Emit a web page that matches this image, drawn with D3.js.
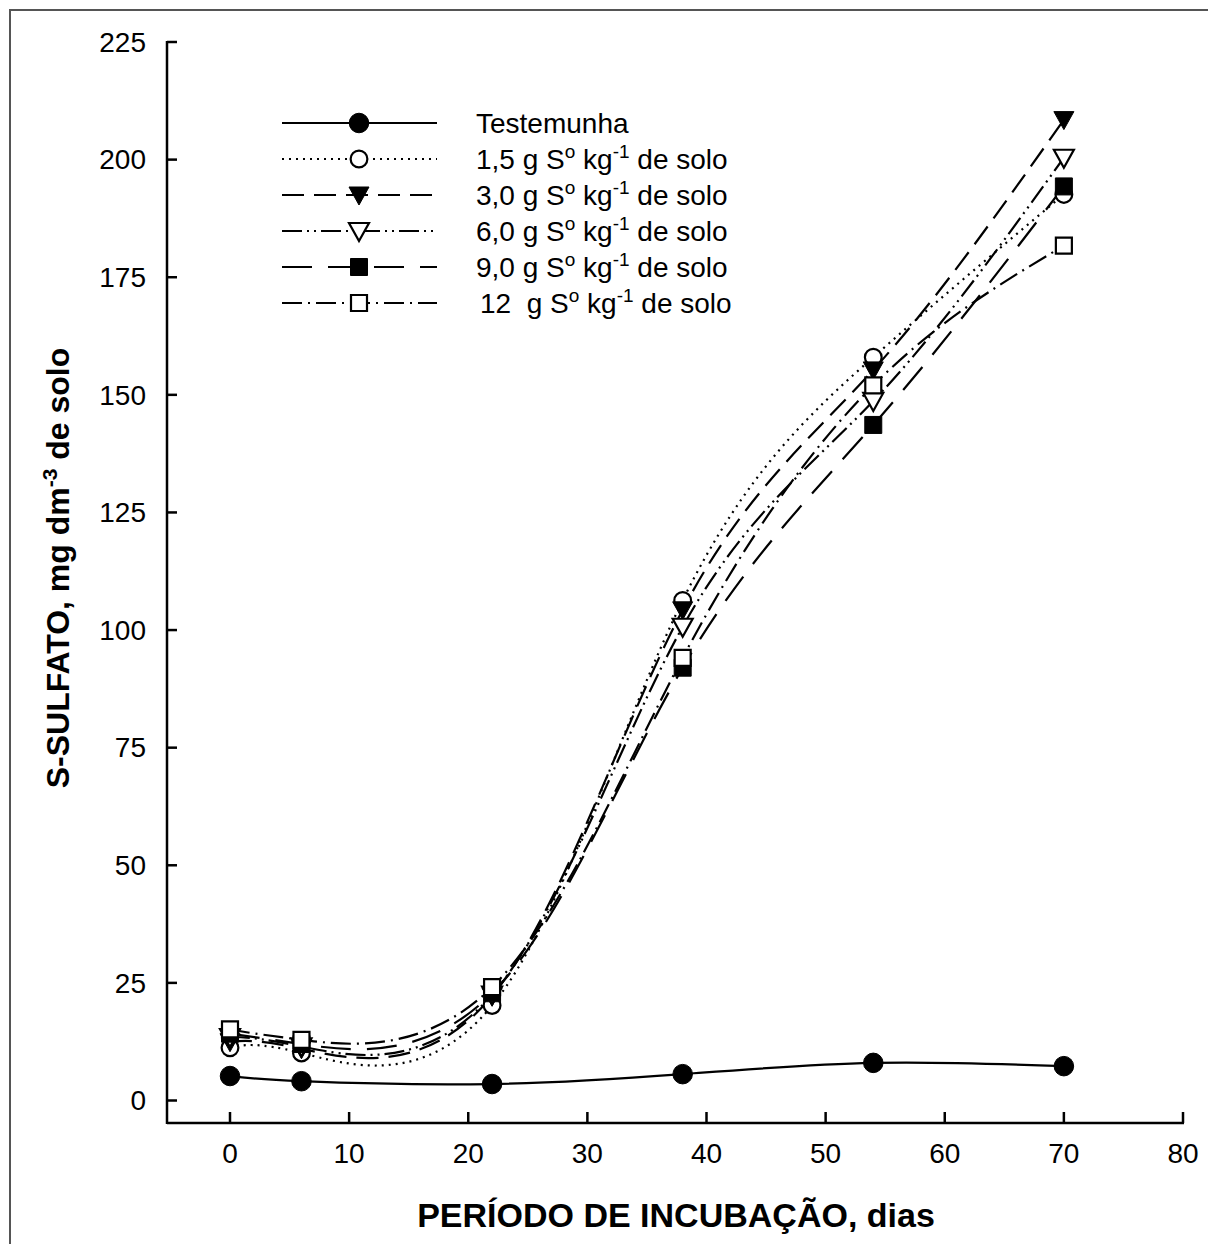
<!DOCTYPE html>
<html>
<head>
<meta charset="utf-8">
<script src="https://cdn.jsdelivr.net/npm/d3@7"></script>
<style>
  body { margin: 0; background: #fff; }
  text { font-family: "Liberation Sans", Arial, sans-serif; fill: #000; }
</style>
</head>
<body>
<div id="chart"></div>
<script>
// incubation days
const dias = [0, 6, 22, 38, 54, 70];

// S-sulfato, mg dm-3
const testemunha = [5.2, 4.1, 3.5, 5.6, 8.0, 7.3];
const dose15 = [11.2, 10.1, 20.2, 106.3, 158.0, 192.6];
const dose30 = [12.5, 11.0, 22.2, 104.3, 155.3, 208.5];
const dose60 = [13.5, 11.5, 22.5, 100.7, 148.7, 200.4];
const dose90 = [14.2, 12.0, 22.8, 92.0, 143.6, 194.3];
const dose12 = [15.1, 12.9, 24.1, 94.1, 152.0, 181.7];

const xTicks = [0, 10, 20, 30, 40, 50, 60, 70, 80];
const yTicks = [0, 25, 50, 75, 100, 125, 150, 175, 200, 225];

const legendLabels = ["Testemunha", "1,5", "3,0", "6,0", "9,0", "12 "];

const series = [
  { label: legendLabels[0], values: testemunha, dash: null, marker: "circle", fill: true },
  { label: legendLabels[1], values: dose15, dash: "2,5", marker: "circle", fill: false },
  { label: legendLabels[2], values: dose30, dash: "22,10", marker: "tri", fill: true },
  { label: legendLabels[3], values: dose60, dash: "20,5,2,5,2,5", marker: "tri", fill: false },
  { label: legendLabels[4], values: dose90, dash: "30,16", marker: "square", fill: true },
  { label: legendLabels[5], values: dose12, dash: "20,6,2,6", marker: "square", fill: false }
];

const W = 1208, H = 1244;
const svg = d3.select("#chart").append("svg")
  .attr("width", W).attr("height", H);

// outer frame
svg.append("rect")
  .attr("x", 10).attr("y", 10)
  .attr("width", W + 20).attr("height", H + 20)
  .attr("fill", "none").attr("stroke", "#555").attr("stroke-width", 2);

const x = d3.scaleLinear().domain([0, 80]).range([230, 1183]);
const y = d3.scaleLinear().domain([0, 225]).range([1100.5, 42]);

const axisX = 167, axisY = 1123;

// y axis
svg.append("line")
  .attr("x1", axisX).attr("x2", axisX)
  .attr("y1", y(225) - 1).attr("y2", axisY + 1)
  .attr("stroke", "#000").attr("stroke-width", 2.5);
svg.selectAll(".ytick").data(yTicks).enter().append("line")
  .attr("x1", axisX).attr("x2", axisX + 10)
  .attr("y1", d => y(d)).attr("y2", d => y(d))
  .attr("stroke", "#000").attr("stroke-width", 2.5);
svg.selectAll(".ylab").data(yTicks).enter().append("text")
  .attr("x", 146).attr("y", d => y(d))
  .attr("dy", "0.35em")
  .attr("text-anchor", "end")
  .attr("font-size", 28)
  .text(d => d);

// x axis
svg.append("line")
  .attr("x1", axisX).attr("x2", x(80) + 1)
  .attr("y1", axisY).attr("y2", axisY)
  .attr("stroke", "#000").attr("stroke-width", 2.5);
svg.selectAll(".xtick").data(xTicks).enter().append("line")
  .attr("x1", d => x(d)).attr("x2", d => x(d))
  .attr("y1", axisY).attr("y2", axisY - 11)
  .attr("stroke", "#000").attr("stroke-width", 2.5);
svg.selectAll(".xlab").data(xTicks).enter().append("text")
  .attr("x", d => x(d)).attr("y", 1153)
  .attr("dy", "0.35em")
  .attr("text-anchor", "middle")
  .attr("font-size", 28)
  .text(d => d);

// axis titles
svg.append("text")
  .attr("x", 676).attr("y", 1215)
  .attr("dy", "0.35em")
  .attr("text-anchor", "middle")
  .attr("font-size", 34).attr("font-weight", "bold")
  .text("PERÍODO DE INCUBAÇÃO, dias");

const yTitle = svg.append("text")
  .attr("transform", "translate(58,568) rotate(-90)")
  .attr("dy", 11)
  .attr("text-anchor", "middle")
  .attr("font-size", 32).attr("font-weight", "bold");
yTitle.append("tspan").text("S-SULFATO, mg dm");
yTitle.append("tspan").attr("font-size", 21).attr("dy", -12).text("-3");
yTitle.append("tspan").attr("dy", 12).text(" de solo");

// markers
function markerPath(type) {
  if (type === "circle") return d3.symbol(d3.symbolCircle, 300)();
  if (type === "tri") return "M-10,-8L10,-8L0,10Z";
  return "M-8.5,-8.5H8.5V8.5H-8.5Z";
}

function drawMarker(g, s, cx, cy) {
  let p = markerPath(s.marker);
  if (!s.fill && s.marker === "circle") p = d3.symbol(d3.symbolCircle, 220)();
  if (!s.fill && s.marker === "square") p = "M-8,-8H8V8H-8Z";
  g.append("path")
    .attr("d", p)
    .attr("transform", `translate(${cx},${cy})`)
    .attr("fill", s.fill ? "#000" : "#fff")
    .attr("stroke", "#000")
    .attr("stroke-width", s.fill ? 1 : 2.2);
}

const line = d3.line()
  .x((d, i) => x(dias[i]))
  .y(d => y(d))
  .curve(d3.curveNatural);

const gLines = svg.append("g");
series.forEach(s => {
  gLines.append("path")
    .attr("d", line(s.values))
    .attr("fill", "none")
    .attr("stroke", "#000")
    .attr("stroke-width", 2.2)
    .attr("stroke-dasharray", s.dash);
});

const gMarks = svg.append("g");
series.forEach(s => {
  s.values.forEach((v, i) => drawMarker(gMarks, s, x(dias[i]), y(v)));
});

// legend
const lg = svg.append("g");
series.forEach((s, i) => {
  const ly = 123 + i * 36;
  lg.append("line")
    .attr("x1", 282).attr("x2", 437)
    .attr("y1", ly).attr("y2", ly)
    .attr("stroke", "#000").attr("stroke-width", 2.2)
    .attr("stroke-dasharray", s.dash);
  drawMarker(lg, s, 359, ly);
  const t = lg.append("text")
    .attr("x", i === 5 ? 480 : 476).attr("y", ly)
    .attr("dy", 10)
    .attr("font-size", 28)
    .attr("xml:space", "preserve");
  if (i === 0) {
    t.text(s.label);
  } else {
    t.append("tspan").text(s.label + " g S");
    t.append("tspan").attr("font-size", 19).attr("dy", -11).text("o");
    t.append("tspan").attr("dy", 11).text(" kg");
    t.append("tspan").attr("font-size", 19).attr("dy", -11).text("-1");
    t.append("tspan").attr("dy", 11).text(" de solo");
  }
});
</script>
</body>
</html>
